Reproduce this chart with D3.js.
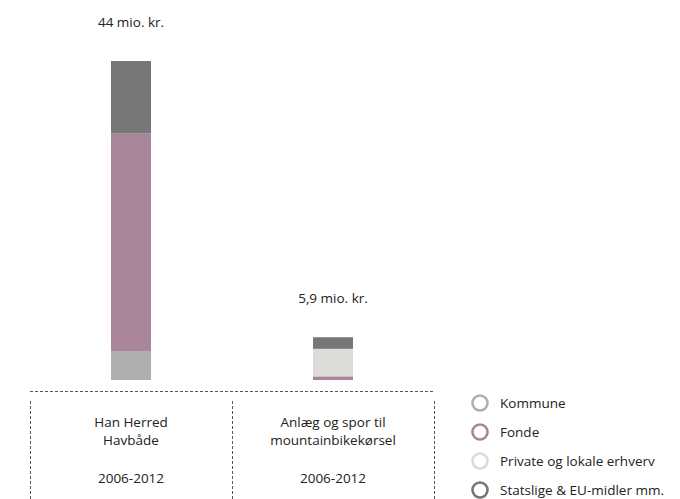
<!DOCTYPE html>
<meta charset="utf-8">
<style>
body {
  margin: 0;
  background-color: #ffffff;
}
text {
  font-family: "Open Sans", "Lato", sans-serif;
  font-size: 13.5px;
  fill: #222222;
}
.sep {
  stroke: #555555;
  stroke-width: 1px;
  stroke-dasharray: 3,2;
  shape-rendering: crispEdges;
}
</style>
<svg width="680" height="499"></svg>
<script src="https://d3js.org/d3.v7.min.js"></script>
<script>

var projects = ["Han Herred Havbåde", "Anlæg og spor til mountainbikekørsel"];
var projectLines = [["Han Herred", "Havbåde"], ["Anlæg og spor til", "mountainbikekørsel"]];
var periods = ["2006-2012", "2006-2012"];
var totals = ["44 mio. kr.", "5,9 mio. kr."];
var sources = ["Kommune", "Fonde", "Private og lokale erhverv", "Statslige & EU-midler mm."];
var colors = ["#afafaf", "#a88599", "#dcdcd8", "#777777"];
// mio. kr. per source, per project
var kommune = [4, 0];
var fonde = [30, 0.5];
var privat = [0, 3.8];
var statslige = [10, 1.6];

var svg = d3.select("svg");

var data = projects.map(function(p, i) {
  return {project: p, Kommune: kommune[i], Fonde: fonde[i],
    "Private og lokale erhverv": privat[i], "Statslige & EU-midler mm.": statslige[i]};
});

var x = d3.scaleBand().domain(projects).range([30, 434]);
var y = d3.scaleLinear().domain([0, 44]).range([380, 61]);
var color = d3.scaleOrdinal().domain(sources).range(colors);
var barW = 40;

var stack = d3.stack().keys(sources)(data);

svg.append("g").selectAll("g")
  .data(stack)
  .enter().append("g")
    .attr("fill", function(d) { return color(d.key); })
  .selectAll("rect")
  .data(function(d) { return d; })
  .enter().append("rect")
    .attr("x", function(d) { return x(d.data.project) + x.bandwidth() / 2 - barW / 2; })
    .attr("width", barW)
    .attr("y", function(d) { return y(d[1]); })
    .attr("height", function(d) { return y(d[0]) - y(d[1]); });

// total labels
svg.append("g").selectAll("text")
  .data(projects)
  .enter().append("text")
    .attr("x", function(d) { return x(d) + x.bandwidth() / 2; })
    .attr("y", function(d, i) { return y(d3.sum(sources, function(s) { return data[i][s]; })) - 34; })
    .attr("text-anchor", "middle")
    .text(function(d, i) { return totals[i]; });

// dashed frame
svg.append("line").attr("class", "sep")
  .attr("x1", 30).attr("x2", 435).attr("y1", 391.5).attr("y2", 391.5);
svg.append("g").selectAll("line")
  .data([30, 232, 434])
  .enter().append("line")
    .attr("class", "sep")
    .attr("x1", function(d) { return d + 0.5; })
    .attr("x2", function(d) { return d + 0.5; })
    .attr("y1", 401).attr("y2", 499);

// category labels
var cat = svg.append("g").selectAll("g")
  .data(projects)
  .enter().append("g")
    .attr("transform", function(d) { return "translate(" + (x(d) + x.bandwidth() / 2) + ",0)"; });
cat.each(function(d, i) {
  var g = d3.select(this);
  projectLines[i].forEach(function(l, j) {
    g.append("text").attr("y", 427 + j * 18).attr("text-anchor", "middle").text(l);
  });
  g.append("text").attr("y", 483).attr("text-anchor", "middle").text(periods[i]);
});

// legend
var legend = svg.append("g").selectAll("g")
  .data(sources)
  .enter().append("g")
    .attr("transform", function(d, i) { return "translate(480," + (403 + i * 29) + ")"; });
legend.append("circle")
  .attr("r", 7.5)
  .attr("fill", "none")
  .attr("stroke", function(d) { return color(d); })
  .attr("stroke-width", 2.6);
legend.append("text")
  .attr("x", 20)
  .attr("dy", "0.35em")
  .text(function(d) { return d; });

</script>
